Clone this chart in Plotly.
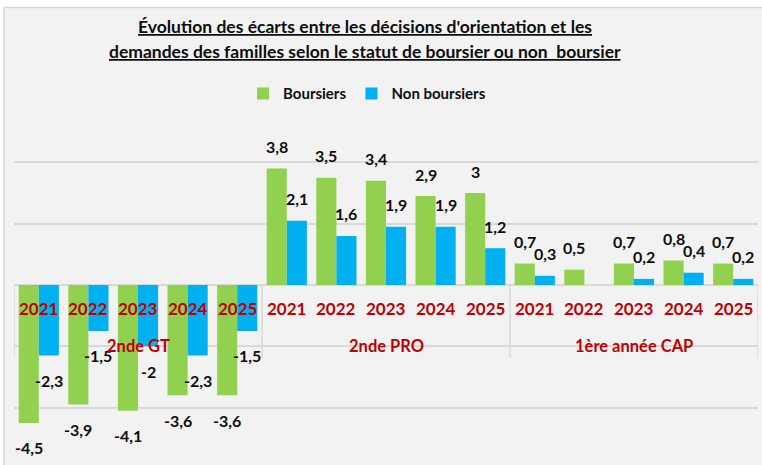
import plotly.graph_objects as go

groups = ["2nde GT", "2nde PRO", "1ère année CAP"]
years = ["2021", "2022", "2023", "2024", "2025"]
boursiers = [-4.5, -3.9, -4.1, -3.6, -3.6,
             3.8, 3.5, 3.4, 2.9, 3.0,
             0.7, 0.5, 0.7, 0.8, 0.7]
non_boursiers = [-2.3, -1.5, -2.0, -2.3, -1.5,
                 2.1, 1.6, 1.9, 1.9, 1.2,
                 0.3, None, 0.2, 0.4, 0.2]

GREEN = "#92D050"
BLUE = "#00B0F0"
RED = "#C00000"
TXT = "#0D0D0D"
FONT = "Lato"

cats = [f"{g} {y}" for g in groups for y in years]

def fmt(v):
    s = f"{v:g}"
    return s.replace(".", ",")

fig = go.Figure()
fig.add_trace(go.Bar(x=cats, y=boursiers, name="Boursiers", marker_color=GREEN,
                     marker_line_width=0))
fig.add_trace(go.Bar(x=cats, y=non_boursiers, name="Non boursiers", marker_color=BLUE,
                     marker_line_width=0))

ann = []
for series, dx in ((boursiers, -10), (non_boursiers, 10)):
    for c, v in zip(cats, series):
        if v is None:
            continue
        ann.append(dict(x=c, y=v, xref="x", yref="y", text=fmt(v), showarrow=False,
                        xshift=dx, yshift=22 if v >= 0 else -25,
                        font=dict(family=FONT, size=16, color=TXT, weight="bold")))

# year labels and group labels (category axis)
for c, (g, y) in zip(cats, [(g, y) for g in groups for y in years]):
    ann.append(dict(x=c, y=0, xref="x", yref="y", text=y, showarrow=False,
                    yshift=-24, font=dict(family=FONT, size=17, color=RED, weight="bold")))
for gi, g in enumerate(groups):
    mid = cats[gi * len(years) + len(years) // 2]
    ann.append(dict(x=mid, y=0, xref="x", yref="y", text=g, showarrow=False,
                    yshift=-61, font=dict(family=FONT, size=16.5, color=RED, weight="bold")))

# title
ann.append(dict(x=0.4718, y=1.206, xref="paper", yref="paper",
                text="<u>Évolution des écarts entre les décisions d'orientation et les</u>",
                showarrow=False, yanchor="middle",
                font=dict(family=FONT, size=17.5, color=TXT, weight="bold")))
ann.append(dict(x=0.4718, y=1.135, xref="paper", yref="paper",
                text="<u>demandes des familles selon le statut de boursier ou non  boursier</u>",
                showarrow=False, yanchor="middle",
                font=dict(family=FONT, size=17.5, color=TXT, weight="bold")))

shapes = []
# chart frame
shapes.append(dict(type="rect", xref="paper", yref="paper", x0=-0.0134, x1=1.02,
                   y0=-0.05, y1=1.2569, fillcolor="#F2F2F2",
                   line=dict(color="#D9D9D9", width=1.5), layer="below"))
# category dividers
n = len(years)
for k in range(len(groups) + 1):
    xpos = k * n - 0.5
    shapes.append(dict(type="line", xref="x", yref="paper", x0=xpos, x1=xpos,
                       y0=0.294, y1=0.495, line=dict(color="#D9D9D9", width=1.5),
                       layer="below"))

fig.update_layout(
    width=762, height=465,
    margin=dict(l=14, r=4, t=101, b=0),
    paper_bgcolor="white",
    plot_bgcolor="rgba(0,0,0,0)",
    barmode="group", bargap=0.19, bargroupgap=0,
    showlegend=True,
    legend=dict(orientation="h", x=0.4745, xanchor="center", y=1.02, yanchor="middle",
                font=dict(family=FONT, size=15, color=TXT, weight="bold"),
                bgcolor="rgba(0,0,0,0)", itemwidth=30, traceorder="normal"),
    annotations=ann,
    shapes=shapes,
    xaxis=dict(type="category", showticklabels=False, showgrid=False, ticks="",
               showline=False, zeroline=False, range=[-0.5, len(cats) - 0.5]),
    yaxis=dict(range=[-5.873, 6.003], dtick=2, tick0=0, showticklabels=False,
               showgrid=True, gridcolor="#D9D9D9", gridwidth=1.5,
               zeroline=True, zerolinecolor="#D9D9D9", zerolinewidth=1.5, ticks=""),
    font=dict(family=FONT),
)

fig.write_html("out.html", config={"displayModeBar": False},
               post_script="document.body.style.margin='0';document.body.style.overflow='hidden';")
